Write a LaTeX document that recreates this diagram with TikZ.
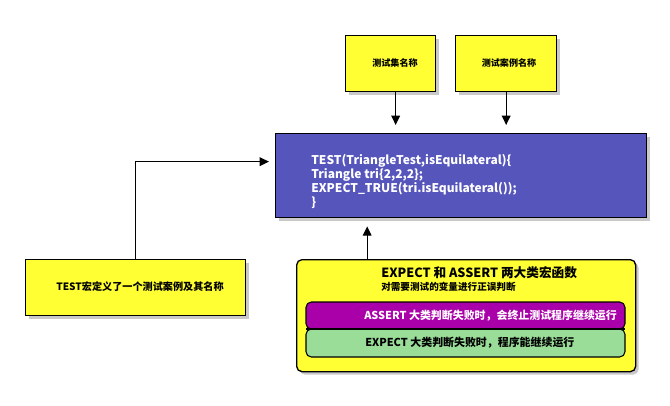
\documentclass[tikz,border=0pt]{standalone}
\usepackage{fontspec}
\setmainfont{Noto Sans CJK SC}
\usetikzlibrary{arrows.meta,shadows,positioning,calc}
\newdimen\px \px=0.75pt
\definecolor{yel}{HTML}{FFFF33}
\definecolor{codeblue}{HTML}{5555BB}
\definecolor{purp}{HTML}{AA00AA}
\definecolor{grn}{HTML}{99DD99}
\tikzset{
  shad/.style={drop shadow={shadow xshift=2.2pt,shadow yshift=-2.2pt,opacity=0.35,fill=black!60}},
  ybox/.style={draw=black,line width=1pt,fill=yel,shad,anchor=north west,inner sep=0pt},
  arr/.style={draw=black,line width=1pt,-{Triangle[length=7pt,width=6.5pt]}},
  lbl/.style={inner sep=0pt,font=\bfseries},
}
\begin{document}
\begin{tikzpicture}[x=0.75pt,y=-0.75pt]
\useasboundingbox[fill=white] (0,0) rectangle (670,406);
% top boxes
\node[ybox,minimum width=90\px,minimum height=56\px] (b1) at (345,35) {};
\node[lbl,font=\bfseries\fontsize{6.8pt}{8pt}\selectfont] (t1) at (395,63) {测试集名称};
\node[ybox,minimum width=101\px,minimum height=56\px] (b2) at (455,35) {};
\node[lbl,font=\bfseries\fontsize{6.8pt}{8pt}\selectfont] (t2) at (509,63) {测试案例名称};
% code box
\node[draw=black,line width=1pt,fill=codeblue,shad,anchor=north west,inner sep=0pt,
      minimum width=371\px,minimum height=84\px] (code) at (275,133) {};
\node[lbl,anchor=west,text=white,align=left,font=\bfseries\fontsize{9pt}{10.5pt}\selectfont] (ct) at (311,181)
 {TEST(TriangleTest,isEquilateral)\{\\Triangle tri\{2,2,2\};\\EXPECT\_TRUE(tri.isEquilateral());\\\}};
% left box
\node[ybox,minimum width=220\px,minimum height=56\px] (lb) at (25,259) {};
\node[lbl,font=\bfseries\fontsize{7.6pt}{9pt}\selectfont] (lt) at (140,287) {TEST宏定义了一个测试案例及其名称};
% group box
\node[draw=black,line width=1pt,fill=yel,shad,rounded corners=4pt,anchor=north west,inner sep=0pt,
      minimum width=339\px,minimum height=112\px] (grp) at (296,259) {};
\node[lbl,anchor=west,font=\bfseries\fontsize{9.5pt}{11pt}\selectfont] (gt) at (381,273) {EXPECT 和 ASSERT 两大类宏函数};
\node[lbl,anchor=west,font=\bfseries\fontsize{7.2pt}{8pt}\selectfont] (gs) at (381,287) {对需要测试的变量进行正误判断};
% bands
\path[draw=black,line width=0.8pt,fill=purp,rounded corners=4pt]
  (306,329) -- (306,302) -- (625,302) -- (625,329) -- cycle;
\path[draw=black,line width=0.8pt,fill=grn,rounded corners=4pt]
  (306,329) -- (306,357) -- (625,357) -- (625,329) -- cycle;
\draw[line width=0.8pt] (306,329) -- (625,329);
\node[lbl,anchor=west,text=white,font=\bfseries\fontsize{8.2pt}{9pt}\selectfont] (pt) at (364,315.5) {ASSERT 大类判断失败时，会终止测试程序继续运行};
\node[lbl,anchor=west,font=\bfseries\fontsize{8.2pt}{9pt}\selectfont] (gtx) at (365,343) {EXPECT 大类判断失败时，程序能继续运行};
% arrows
\draw[arr,shorten >=8\px] ([xshift=5\px]b1.south) -- ([xshift=5\px]b1.south |- code.north);
\draw[arr,shorten >=8\px] (b2.south) -- (b2.south |- code.north);
\draw[arr,shorten >=8\px] ([xshift=-99\px]grp.north) -- ([xshift=-99\px]grp.north |- code.south);
\draw[arr,shorten >=6\px] (lb.north) |- ([yshift=14\px]code.west);
\end{tikzpicture}
\end{document}
